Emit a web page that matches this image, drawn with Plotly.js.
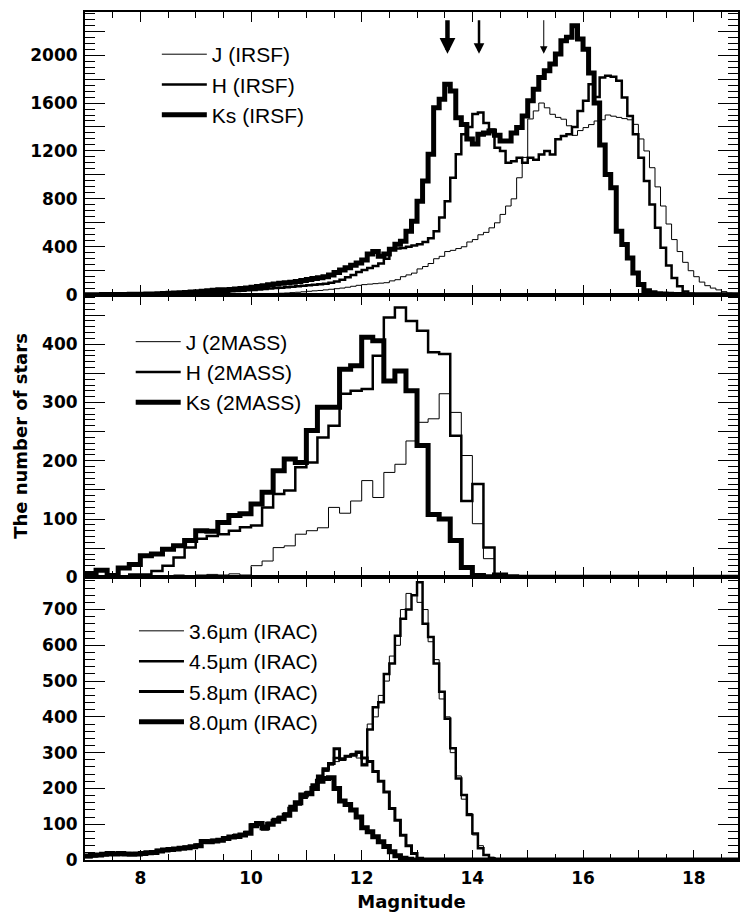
<!DOCTYPE html>
<html><head><meta charset="utf-8">
<script src="https://cdn.plot.ly/plotly-3.0.1.min.js"></script>
<style>html,body{margin:0;padding:0;background:#fff}#chart{width:740px;height:916px}</style>
</head><body><div id="chart"></div>
<script>
// ---------- DATA ----------
// IRSF histograms: bins of 0.1 mag starting at 7.0 (118 bins, 7.0 .. 18.7)
const irsfBinStart = 7.0;
const irsfBinWidth = 0.1;
const jIRSF = [
  0,0,0,0,0,0,0,0,0,0,
  0,0,0,0,0,0,1,1,1,1,
  1,1,1,2,2,2,2,3,3,3,
  3,5,6,8,10,12,14,17,20,24,
  28,32,35,40,45,50,55,62,70,78,
  84,88,92,96,100,115,125,150,165,180,
  215,235,260,300,320,360,370,385,400,440,
  460,500,520,558,600,670,740,800,976,1146,
  1467,1534,1600,1560,1506,1480,1465,1410,1330,1370,
  1395,1420,1450,1460,1500,1490,1480,1470,1460,1422,
  1300,1200,1060,900,740,590,460,360,270,200,
  150,105,75,55,40,25,12,5
];
const hIRSF = [
  0,0,0,0,0,1,1,1,1,1,
  1,2,2,3,4,5,6,7,9,11,
  13,15,17,19,22,25,28,30,33,36,
  40,44,48,52,55,58,62,66,70,74,
  78,82,86,92,100,110,125,145,165,190,
  205,223,240,260,300,380,385,390,400,410,
  420,440,470,530,644,780,976,1173,1340,1400,
  1508,1520,1434,1380,1227,1200,1102,1113,1143,1102,
  1143,1127,1170,1200,1170,1297,1325,1340,1400,1533,
  1618,1757,1650,1813,1827,1820,1785,1646,1492,1340,
  1143,948,753,558,391,244,140,70,27,8,
  3,1,0,0,0,0,0,0
];
const ksIRSF = [
  0,0,0,1,1,1,2,2,3,3,
  4,5,6,8,10,12,14,16,19,22,
  25,28,32,36,42,40,44,48,52,56,
  62,68,75,82,90,96,100,104,110,118,
  126,134,142,150,165,185,205,225,245,265,
  290,340,360,320,340,380,420,446,530,613,
  780,948,1173,1560,1632,1757,1700,1477,1420,1300,
  1257,1340,1350,1367,1330,1283,1283,1350,1395,1492,
  1618,1715,1813,1869,1925,2009,2120,2150,2245,2134,
  2050,1850,1600,1250,1004,893,530,419,307,181,
  84,33,15,8,5,3,2,1,0,0,
  0,0,0,0,0,0,0,0
];

// 2MASS histograms: bins of 0.2 mag starting at 7.0 (59 bins, 7.0 .. 18.6)
const tmassBinStart = 7.0;
const tmassBinWidth = 0.2;
const j2MASS = [
  0,0,1,1,2,
  2,3,2,4,3,
  4,5,4,6,4,
  20,28,51,54,74,
  80,85,120,110,131,
  166,137,180,194,234,
  266,272,315,283,209,
  92,32,3,1,0,
  0,0,0,0,0,
  0,0,0,0,0,
  0,0,0,0,0,
  0,0,0,0
];
const h2MASS = [
  2,2,1,2,5,
  5,11,20,34,51,
  66,71,74,80,86,
  89,120,143,149,189,
  197,240,260,315,320,
  323,380,446,463,440,
  423,386,383,243,131,
  160,51,3,0,0,
  0,0,0,0,0,
  0,0,0,0,0,
  0,0,0,0,0,
  0,0,0,0
];
const ks2MASS = [
  5,12,3,16,22,
  37,40,48,54,63,
  80,79,94,106,109,
  126,146,183,203,197,
  252,292,292,357,363,
  412,406,337,354,320,
  226,108,100,63,17,
  3,1,4,1,0,
  0,0,0,0,0,
  0,0,0,0,0,
  0,0,0,0,0,
  0,0,0,0
];

// IRAC histograms: bins of 0.1 mag starting at 7.0 (118 bins)
const iracBinStart = 7.0;
const iracBinWidth = 0.1;
const irac36 = [
  12,14,16,15,18,17,19,18,16,17,
  19,21,22,25,29,30,32,34,35,39,
  45,52,50,54,57,62,64,67,73,76,
  95,97,93,102,110,116,128,148,158,175,
  188,205,225,248,265,275,282,290,298,285,
  270,380,400,460,500,570,600,700,745,740,
  720,700,610,560,450,400,300,235,170,130,
  70,40,15,8,2,0,0,0,0,0,
  0,0,0,0,0,0,0,0,0,0,
  0,0,0,0,0,0,0,0,0,0,
  0,0,0,0,0,0,0,0,0,0,
  0,0,0,0,0,0,0,0
];
const irac45 = [
  10,12,15,14,18,16,20,18,17,18,
  18,20,22,26,30,28,33,35,34,38,
  42,55,50,52,58,62,65,68,72,78,
  100,98,85,104,112,118,130,145,155,180,
  190,200,230,250,270,285,280,290,295,300,
  265,365,427,441,520,549,627,674,700,740,
  776,660,623,549,470,395,312,228,182,126,
  74,33,14,5,1,0,0,0,0,0,
  0,0,0,0,0,0,0,0,0,0,
  0,0,0,0,0,0,0,0,0,0,
  0,0,0,0,0,0,0,0,0,0,
  0,0,0,0,0,0,0,0
];
const irac58 = [
  9,11,14,16,17,18,19,17,16,18,
  17,19,23,27,28,30,32,34,36,37,
  40,50,53,55,56,60,66,70,70,76,
  98,100,95,100,114,120,128,150,160,175,
  185,210,235,255,270,311,283,290,293,302,
  285,275,247,220,190,144,111,69,40,18,
  5,1,0,0,0,0,0,0,0,0,
  0,0,0,0,0,0,0,0,0,0,
  0,0,0,0,0,0,0,0,0,0,
  0,0,0,0,0,0,0,0,0,0,
  0,0,0,0,0,0,0,0,0,0,
  0,0,0,0,0,0,0,0
];
const irac80 = [
  11,13,14,16,18,17,18,17,16,17,
  18,20,21,25,28,29,31,33,34,37,
  40,52,51,53,55,60,64,66,70,75,
  96,102,90,100,108,115,125,142,160,182,
  185,200,220,228,230,200,165,155,140,120,
  90,79,65,51,38,23,12,5,2,0,
  0,0,0,0,0,0,0,0,0,0,
  0,0,0,0,0,0,0,0,0,0,
  0,0,0,0,0,0,0,0,0,0,
  0,0,0,0,0,0,0,0,0,0,
  0,0,0,0,0,0,0,0,0,0,
  0,0,0,0,0,0,0,0
];

// Arrow markers in the IRSF panel (magnitudes)
const arrowMags = [13.55, 14.12, 15.29];

// Tick labels
const xTickVals = [8,9,10,11,12,13,14,15,16,17,18];
const xTickText = ['8','','10','','12','','14','','16','','18'];
const y1TickVals = [0,200,400,600,800,1000,1200,1400,1600,1800,2000,2200];
const y1TickText = ['0','','400','','800','','1200','','1600','','2000',''];
const y2TickVals = [0,50,100,150,200,250,300,350,400,450];
const y2TickText = ['0','','100','','200','','300','','400',''];
const y3TickVals = [0,100,200,300,400,500,600,700];
const y3TickText = ['0','100','200','300','400','500','600','700'];

// ---------- DRAWING ----------
function steps(start, width, counts) {
  const x = [], y = [];
  for (let i = 0; i < counts.length; i++) {
    x.push(+(start + i * width).toFixed(3));
    y.push(counts[i]);
  }
  x.push(+(start + counts.length * width).toFixed(3));
  y.push(counts[counts.length - 1]);
  return {x, y};
}
function trace(name, start, width, counts, lw, xa, ya, leg) {
  const s = steps(start, width, counts);
  return {type: 'scatter', mode: 'lines', name, x: s.x, y: s.y,
    line: {shape: 'hv', color: '#000', width: lw},
    xaxis: xa, yaxis: ya, legend: leg, hoverinfo: 'skip'};
}

const data = [
  trace('J (IRSF)', irsfBinStart, irsfBinWidth, jIRSF, 1, 'x', 'y', 'legend'),
  trace('H (IRSF)', irsfBinStart, irsfBinWidth, hIRSF, 2.5, 'x', 'y', 'legend'),
  trace('Ks (IRSF)', irsfBinStart, irsfBinWidth, ksIRSF, 5, 'x', 'y', 'legend'),
  trace('J (2MASS)', tmassBinStart, tmassBinWidth, j2MASS, 1, 'x2', 'y2', 'legend2'),
  trace('H (2MASS)', tmassBinStart, tmassBinWidth, h2MASS, 2.5, 'x2', 'y2', 'legend2'),
  trace('Ks (2MASS)', tmassBinStart, tmassBinWidth, ks2MASS, 5, 'x2', 'y2', 'legend2'),
  trace('3.6\u00b5m (IRAC)', iracBinStart, iracBinWidth, irac36, 1, 'x3', 'y3', 'legend3'),
  trace('4.5\u00b5m (IRAC)', iracBinStart, iracBinWidth, irac45, 2.5, 'x3', 'y3', 'legend3'),
  trace('5.8\u00b5m (IRAC)', iracBinStart, iracBinWidth, irac58, 3, 'x3', 'y3', 'legend3'),
  trace('8.0\u00b5m (IRAC)', iracBinStart, iracBinWidth, irac80, 5, 'x3', 'y3', 'legend3')
];

const tickFont = {family: 'DejaVu Sans, Arial, sans-serif', size: 17, color: '#000', weight: 'bold'};
const titleFont = {family: 'DejaVu Sans, Arial, sans-serif', size: 18, color: '#000', weight: 'bold'};
const legFont = {family: 'Liberation Sans, Arial, sans-serif', size: 21, color: '#000'};

function xax(anchor, labels) {
  return {
    anchor, range: [7, 18.8], showline: true, linewidth: 2, linecolor: '#000',
    mirror: 'allticks', ticks: 'inside', ticklen: 10, tickwidth: 1, tickcolor: '#000',
    tickmode: 'array', tickvals: xTickVals, ticktext: xTickText,
    showticklabels: labels, tickfont: tickFont, ticklabelstandoff: 2,
    minor: {tickmode: 'linear', tick0: 7, dtick: 0.5, ticks: 'inside', ticklen: 6, tickwidth: 1, tickcolor: '#000'},
    showgrid: false, zeroline: false, fixedrange: true
  };
}
function yax(anchor, domain, range, tv, tt, minorDt) {
  return {
    anchor, domain, range, showline: true, linewidth: 2, linecolor: '#000',
    mirror: 'allticks', ticks: 'inside', ticklen: 20, tickwidth: 1, tickcolor: '#000',
    tickmode: 'array', tickvals: tv, ticktext: tt, tickfont: tickFont, ticklabelstandoff: 2,
    minor: {tickmode: 'linear', tick0: 0, dtick: minorDt, ticks: 'inside', ticklen: 10, tickwidth: 1, tickcolor: '#000'},
    showgrid: false, zeroline: false, fixedrange: true
  };
}

const arrowStyles = [
  {w: 4.5, s: 0.7},
  {w: 2.5, s: 0.85},
  {w: 1, s: 1.5}
];
const annotations = arrowMags.map((m, i) => ({
  xref: 'x', yref: 'y', axref: 'x', ayref: 'y',
  x: m, y: 2011, ax: m, ay: 2304, text: '', showarrow: true,
  arrowhead: 2, arrowwidth: arrowStyles[i].w, arrowsize: arrowStyles[i].s, arrowcolor: '#000', standoff: 0
}));

const legBase = {xanchor: 'left', yanchor: 'top', bgcolor: 'rgba(0,0,0,0)', borderwidth: 0,
  font: legFont, itemwidth: 45, tracegroupgap: 0};

const layout = {
  width: 740, height: 916,
  margin: {l: 85, r: 2, t: 12, b: 56},
  paper_bgcolor: '#fff', plot_bgcolor: '#fff',
  showlegend: true,
  xaxis: Object.assign(xax('y', false), {matches: 'x3'}),
  xaxis2: Object.assign(xax('y2', false), {matches: 'x3'}),
  xaxis3: Object.assign(xax('y3', true), {title: {text: 'Magnitude', font: titleFont, standoff: 8}}),
  yaxis: yax('x', [2/3, 1], [0, 2360], y1TickVals, y1TickText, 50),
  yaxis2: Object.assign(yax('x2', [1/3, 2/3], [0, 485], y2TickVals, y2TickText, 10),
    {title: {text: 'The number of stars', font: titleFont, standoff: 10}}),
  yaxis3: yax('x3', [0, 1/3], [0, 790], y3TickVals, y3TickText, 20),
  legend: Object.assign({}, legBase, {x: 0.11, y: 0.974}),
  legend2: Object.assign({}, legBase, {x: 0.07, y: 0.635}),
  legend3: Object.assign({}, legBase, {x: 0.075, y: 0.294}),
  annotations
};

Plotly.newPlot('chart', data, layout, {staticPlot: true, displayModeBar: false});
</script>
</body></html>
